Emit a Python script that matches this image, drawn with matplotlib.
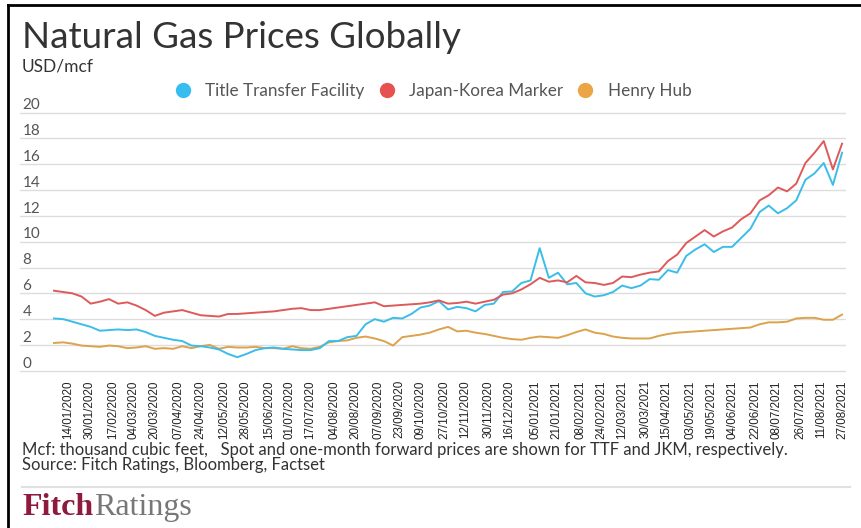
import matplotlib
matplotlib.use('Agg')
import matplotlib.pyplot as plt
from matplotlib.lines import Line2D
import pandas as pd

# weekly readings (Fridays), USD/mcf
week_start = '2020-01-03'

ttf = [4.05, 4.0, 3.8, 3.6, 3.4, 3.1, 3.15, 3.2, 3.15, 3.2,
       3.0, 2.7, 2.55, 2.4, 2.3, 1.95, 1.9, 1.8, 1.65, 1.3,
       1.05, 1.3, 1.6, 1.75, 1.8, 1.7, 1.65, 1.6, 1.6, 1.75,
       2.3, 2.3, 2.6, 2.7, 3.6, 4.0, 3.8, 4.1, 4.05, 4.4,
       4.9, 5.05, 5.4, 4.75, 4.95, 4.85, 4.6, 5.1, 5.2, 6.1,
       6.15, 6.8, 7.0, 9.5, 7.2, 7.6, 6.7, 6.8, 6.0, 5.75,
       5.85, 6.1, 6.6, 6.4, 6.6, 7.1, 7.05, 7.8, 7.6, 8.9,
       9.4, 9.8, 9.2, 9.6, 9.6, 10.3, 11.0, 12.3, 12.8, 12.2,
       12.6, 13.2, 14.8, 15.3, 16.1, 14.4, 16.9]

jkm = [6.2, 6.1, 6.0, 5.75, 5.2, 5.35, 5.55, 5.2, 5.3, 5.05,
       4.7, 4.25, 4.5, 4.6, 4.7, 4.5, 4.3, 4.25, 4.2, 4.4,
       4.4, 4.45, 4.5, 4.55, 4.6, 4.7, 4.8, 4.85, 4.7, 4.7,
       4.8, 4.9, 5.0, 5.1, 5.2, 5.3, 5.0, 5.05, 5.1, 5.15,
       5.2, 5.3, 5.45, 5.2, 5.25, 5.35, 5.2, 5.35, 5.5, 5.9,
       6.0, 6.3, 6.7, 7.2, 6.9, 7.0, 6.85, 7.35, 6.85, 6.8,
       6.65, 6.8, 7.3, 7.25, 7.45, 7.6, 7.7, 8.5, 9.0, 9.9,
       10.4, 10.9, 10.4, 10.8, 11.1, 11.75, 12.2, 13.2, 13.6, 14.2,
       13.9, 14.5, 16.1, 16.9, 17.8, 15.6, 17.6]

henry_hub = [2.15, 2.2, 2.1, 1.95, 1.9, 1.85, 1.95, 1.9, 1.75, 1.8,
             1.9, 1.7, 1.75, 1.7, 1.9, 1.75, 1.9, 2.0, 1.7, 1.85,
             1.8, 1.8, 1.85, 1.75, 1.75, 1.7, 1.9, 1.75, 1.7, 1.85,
             2.2, 2.3, 2.35, 2.55, 2.65, 2.5, 2.3, 1.95, 2.6, 2.7,
             2.8, 2.95, 3.2, 3.4, 3.05, 3.1, 2.95, 2.85, 2.7, 2.55,
             2.45, 2.4, 2.55, 2.65, 2.6, 2.55, 2.75, 3.0, 3.2, 2.95,
             2.85, 2.65, 2.55, 2.5, 2.5, 2.5, 2.7, 2.85, 2.95, 3.0,
             3.05, 3.1, 3.15, 3.2, 3.25, 3.3, 3.35, 3.6, 3.75, 3.75,
             3.8, 4.05, 4.1, 4.1, 3.95, 3.95, 4.35]

tick_labels = ['14/01/2020', '30/01/2020', '17/02/2020', '04/03/2020', '20/03/2020',
               '07/04/2020', '24/04/2020', '12/05/2020', '28/05/2020', '15/06/2020',
               '01/07/2020', '17/07/2020', '04/08/2020', '20/08/2020', '07/09/2020',
               '23/09/2020', '09/10/2020', '27/10/2020', '12/11/2020', '30/11/2020',
               '16/12/2020', '05/01/2021', '21/01/2021', '08/02/2021', '24/02/2021',
               '12/03/2021', '30/03/2021', '15/04/2021', '03/05/2021', '19/05/2021',
               '04/06/2021', '22/06/2021', '08/07/2021', '26/07/2021', '11/08/2021',
               '27/08/2021']

series_names = ['Title Transfer Facility', 'Japan-Korea Marker', 'Henry Hub']
line_colors = ['#3bbde9', '#de5a5a', '#dca24c']
dot_colors = ['#38bdf0', '#e5524f', '#eba446']

dates = pd.date_range(week_start, periods=len(ttf), freq='7D')
tick_pos = pd.to_datetime(tick_labels, dayfirst=True)

plt.rcParams['font.family'] = ['Lato', 'DejaVu Sans']
txt = '#333333'

fig = plt.figure(figsize=(8.62, 5.28), dpi=100)
W, H = 862, 528
# axes: y 0 at 370.7px, 20 at 112.7px (padded by 0.3)
ax = fig.add_axes([20 / W, 1 - 374.6 / H, 826 / W, (374.6 - 108.8) / H])
ax.set_ylim(-0.3, 20.3)
ax.set_xlim(pd.Timestamp('2019-12-08'), pd.Timestamp('2021-08-30'))

for y in range(0, 21, 2):
    ax.axhline(y, color='#dddddd', lw=1.0, zorder=0)
    ax.text(0.003, y + 0.25, str(y), transform=ax.get_yaxis_transform(),
            fontsize=11, color='#555555', ha='left', va='baseline')

for vals, c in zip([henry_hub, ttf, jkm], [line_colors[2], line_colors[0], line_colors[1]]):
    ax.plot(dates, vals, color=c, lw=1.4, zorder=3)

ax.set_yticks([])
ax.set_xticks(tick_pos)
ax.set_xticklabels(tick_labels, rotation=90, fontsize=8.4, color='#222222',
                   family=['Liberation Sans', 'DejaVu Sans'])
ax.tick_params(axis='x', length=0, pad=4)
for s in ax.spines.values():
    s.set_visible(False)

handles = [Line2D([], [], ls='none', marker='o', markersize=10, color=c) for c in dot_colors]
ax.legend(handles, series_names, loc='center', bbox_to_anchor=(433 / W, 1 - 91 / H),
          bbox_transform=fig.transFigure, ncol=3, frameon=False, fontsize=12.3,
          handlelength=1.0, handletextpad=0.8, columnspacing=0.8, labelcolor='#555555')

fig.text(22 / W, 1 - 48 / H, 'Natural Gas Prices Globally', fontsize=26.5, color=txt, va='baseline')
fig.text(22 / W, 1 - 72 / H, 'USD/mcf', fontsize=12.5, color=txt, va='baseline')
fig.text(22 / W, 1 - 455 / H,
         'Mcf: thousand cubic feet,   Spot and one-month forward prices are shown for TTF and JKM, respectively.',
         fontsize=12, color=txt, va='baseline')
fig.text(22 / W, 1 - 470 / H, 'Source: Fitch Ratings, Bloomberg, Factset',
         fontsize=12, color=txt, va='baseline')
fig.add_artist(Line2D([22 / W, 850 / W], [1 - 487 / H, 1 - 487 / H], color='#e0e0e0', lw=1.5))

logo = fig.text(22 / W, 1 - 515 / H, 'Fitch', fontsize=23, color='#8e1b3e', va='baseline',
                family='Liberation Serif', weight='bold')
fig.canvas.draw()
bb = logo.get_window_extent()
fig.text(bb.x1 / W + 0.001, 1 - 515 / H, 'Ratings', fontsize=23, color='#777777', va='baseline',
         family='Liberation Serif')

# screenshot frame (top and left)
fig.add_artist(Line2D([8 / W, 1], [1 - 5 / H, 1 - 5 / H], color='black', lw=2))
fig.add_artist(Line2D([8 / W, 8 / W], [0, 1 - 5 / H], color='black', lw=2))

fig.savefig('out.png', dpi=100)
